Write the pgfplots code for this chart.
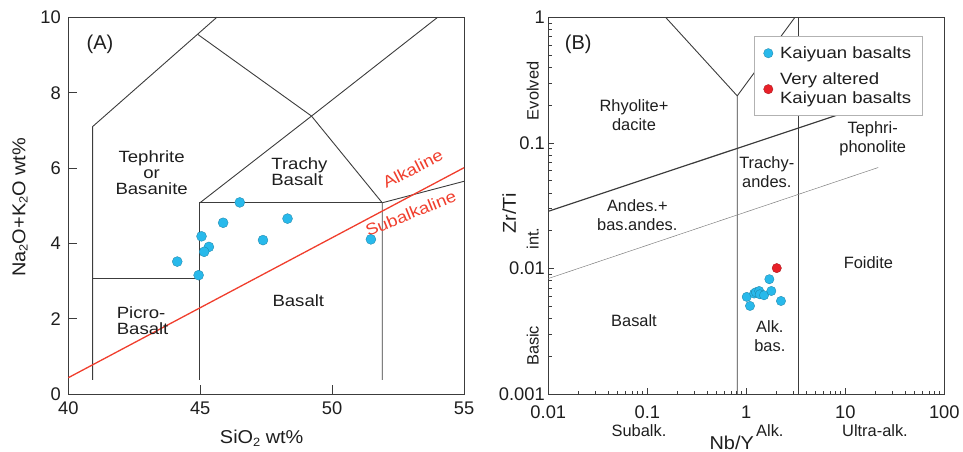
\documentclass[border=0pt]{standalone}
\usepackage{pgfplots}
\pgfplotsset{compat=1.18}
\usepackage{fontspec}
\setmainfont{Liberation Sans}
\newfontfamily\stretchfont[FakeStretch=1.14]{Liberation Sans}
\newfontfamily\axfont[FakeStretch=1.07]{Liberation Sans}
\definecolor{kblue}{RGB}{40,185,235}
\definecolor{kred}{RGB}{232,32,40}
\definecolor{lred}{RGB}{240,62,45}
\definecolor{lgray}{RGB}{60,60,60}
\definecolor{txt}{RGB}{30,30,30}
\newcommand{\sub}[1]{\raisebox{-0.12em}{\fontsize{12}{12}\selectfont #1}}
\newcommand{\tickf}{\fontsize{18.3}{20}\selectfont}
\newcommand{\axf}{\axfont\fontsize{18.6}{20}\selectfont}
\newcommand{\labA}{\stretchfont\fontsize{16.3}{16}\selectfont}
\newcommand{\labB}{\fontsize{16.4}{18.7}\selectfont}
\begin{document}
\begin{tikzpicture}
\useasboundingbox (-68.3pt,-56.7pt) rectangle (894.7pt,394.3pt);
% ---------------- Panel A ----------------
\begin{axis}[
  at={(0pt,0pt)}, anchor=south west,
  width=395.7pt, height=377pt, scale only axis,
  xmin=40, xmax=55, ymin=0, ymax=10,
  xtick={40,45,50,55}, ytick={0,2,4,6,8,10},
  tick align=inside, xtick pos=left, ytick pos=left,
  major tick length=9pt,
  axis line style={lgray, line width=1pt},
  tick style={lgray, line width=0.9pt},
  ticklabel style={font=\tickf, text=txt},
  xticklabel style={yshift=-4pt},
  yticklabel style={xshift=-4pt},
  /pgf/number format/assume math mode=true,
  clip=false,
]
\addplot[lgray, line width=0.9pt, forget plot] coordinates {(40.92,0.38) (40.92,7.1) (44.9,9.55) (45.63,10)};
\addplot[lgray, line width=0.9pt, forget plot] coordinates {(44.9,9.55) (49.22,7.38) (51.9,5.08) (51.9,0.38)};
\addplot[lgray, line width=0.9pt, forget plot] coordinates {(44.99,0.38) (44.99,5.08) (51.9,5.08)};
\addplot[lgray, line width=0.9pt, forget plot] coordinates {(44.99,5.08) (49.22,7.38) (54.0,10)};
\addplot[lgray, line width=0.9pt, forget plot] coordinates {(40.92,3.06) (44.99,3.06)};
\addplot[lgray, line width=0.9pt, forget plot] coordinates {(51.9,5.08) (55,5.65)};
\addplot[lred, line width=1.3pt, forget plot] coordinates {(40,0.44) (55,6.01)};
\addplot[only marks, mark=*, mark size=5pt, mark options={fill=kblue, draw=kblue!70!black, line width=0.3pt}] coordinates {
(44.13,3.52) (44.94,3.16) (45.05,4.19) (45.33,3.91) (45.15,3.78)
(45.87,4.55) (46.50,5.09) (47.38,4.09) (48.31,4.66) (51.47,4.11)};
\node[font=\fontsize{20}{20}\selectfont, text=txt] at (axis cs:41.2,9.27) {(A)};
\node[font=\labA, text=txt, align=center, inner sep=0pt] at (axis cs:43.16,5.87) {Tephrite\\or\\Basanite};
\node[font=\labA, text=txt, align=left, inner sep=0pt] at (axis cs:48.76,5.90) {\fontsize{16.3}{18.3}\selectfont Trachy\\Basalt};
\node[font=\labA, text=txt, inner sep=0pt] at (axis cs:48.72,2.48) {Basalt};
\node[font=\labA, text=txt, align=left, inner sep=0pt, anchor=west] at (axis cs:41.83,1.94) {\fontsize{16.3}{20}\selectfont Picro-\\Basalt};
\node[font=\labA, text=lred, rotate=27, inner sep=0pt] at (axis cs:53.06,5.98) {Alkaline};
\node[font=\labA, text=lred, rotate=22, inner sep=0pt] at (axis cs:52.98,4.80) {Subalkaline};
\end{axis}
% ---------------- Panel B ----------------
\begin{axis}[
  at={(480pt,0pt)}, anchor=south west,
  width=396pt, height=377pt, scale only axis,
  xmode=log, ymode=log,
  xmin=0.01, xmax=100, ymin=0.001, ymax=1,
  xtick={0.01,0.1,1,10,100}, xticklabels={0.01,0.1,1,10,100},
  ytick={0.001,0.01,0.1,1}, yticklabels={0.001,0.01,0.1,1},
  minor xtick={0.02,0.03,0.04,0.05,0.06,0.07,0.08,0.09,0.2,0.3,0.4,0.5,0.6,0.7,0.8,0.9,2,3,4,5,6,7,8,9,20,30,40,50,60,70,80,90},
  minor ytick={0.002,0.003,0.004,0.005,0.006,0.007,0.008,0.009,0.02,0.03,0.04,0.05,0.06,0.07,0.08,0.09,0.2,0.3,0.4,0.5,0.6,0.7,0.8,0.9},
  tick align=inside, xtick pos=left, ytick pos=left,
  major tick length=6pt, minor tick length=3.5pt,
  axis line style={lgray, line width=1pt},
  tick style={lgray, line width=0.8pt},
  ticklabel style={font=\tickf, text=txt},
  xticklabel style={yshift=-8pt},
  /pgf/number format/assume math mode=true,
  clip=false,
  legend style={at={(0.52,0.95)}, anchor=north west, draw=gray!60, fill=white,
    line width=0.8pt, font=\stretchfont\fontsize{16.3}{19.3}\selectfont, text=txt,
    cells={anchor=west, align=left}, row sep=9pt, column sep=5pt,
    inner xsep=9pt, inner ysep=8pt},
]
\addplot[lgray, line width=0.9pt, forget plot] coordinates {(0.81,0.001) (0.81,0.237) (0.153,1)};
\addplot[lgray, line width=0.9pt, forget plot] coordinates {(0.81,0.237) (3.1,1)};
\addplot[lgray, line width=0.9pt, forget plot] coordinates {(3.35,0.001) (3.35,1)};
\addplot[lgray, line width=1.2pt, forget plot] coordinates {(0.01,0.0286) (20,0.21)};
\addplot[gray, line width=0.5pt, forget plot] coordinates {(0.01,0.00834) (21.5,0.0638)};
\addplot[only marks, mark=*, mark size=4.7pt, mark options={fill=kblue, draw=kblue!70!black, line width=0.3pt}] coordinates {
(1.01,0.00596) (1.09,0.00505) (1.20,0.00634) (1.25,0.00649) (1.35,0.00664)
(1.37,0.00625) (1.51,0.00614) (1.71,0.00824) (1.79,0.00664) (2.24,0.00553)};
\addlegendentry{Kaiyuan basalts}
\addplot[only marks, mark=*, mark size=4.7pt, mark options={fill=kred, draw=kred!70!black, line width=0.3pt}] coordinates {(2.03,0.0101)};
\addlegendentry{Very altered\\Kaiyuan basalts}
\node[font=\fontsize{20}{20}\selectfont, text=txt] at (axis cs:0.0201,0.612) {(B)};
\node[font=\labB, text=txt, align=center, inner sep=0pt] at (axis cs:0.0734,0.166) {Rhyolite+\\dacite};
\node[font=\labB, text=txt, align=center, inner sep=0pt] at (axis cs:0.0793,0.0266) {Andes.+\\bas.andes.};
\node[font=\labB, text=txt, inner sep=0pt] at (axis cs:0.0734,0.00388) {Basalt};
\node[font=\labB, text=txt, align=center, inner sep=0pt] at (axis cs:1.61,0.0589) {Trachy-\\andes.};
\node[font=\labB, text=txt, align=center, inner sep=0pt] at (axis cs:1.73,0.00291) {Alk.\\bas.};
\node[font=\labB, text=txt, align=center, inner sep=0pt] at (axis cs:18.9,0.1087) {Tephri-\\phonolite};
\node[font=\labB, text=txt, inner sep=0pt] at (axis cs:17.1,0.0112) {Foidite};
\node[font=\labB, text=txt, rotate=90, inner sep=0pt] at (axis cs:0.00695,0.260) {Evolved};
\node[font=\labB, text=txt, rotate=90, inner sep=0pt] at (axis cs:0.00695,0.0174) {int.};
\node[font=\labB, text=txt, rotate=90, inner sep=0pt] at (axis cs:0.00695,0.00243) {Basic};
\node[font=\labB, text=txt, inner sep=0pt] at (axis cs:0.0824,0.000511) {Subalk.};
\node[font=\labB, text=txt, inner sep=0pt] at (axis cs:1.73,0.000511) {Alk.};
\node[font=\labB, text=txt, inner sep=0pt] at (axis cs:19.95,0.000511) {Ultra-alk.};
\end{axis}
% axis labels
\node[rotate=90, font=\axf, text=txt] at (-48.3pt,187pt) {Na\sub{2}O+K\sub{2}O wt\%};
\node[font=\axf, text=txt] at (193.4pt,-44pt) {SiO\sub{2} wt\%};
\node[rotate=90, font=\axf, text=txt] at (441pt,180.7pt) {Zr/Ti};
\node[font=\axf, text=txt] at (663.4pt,-49pt) {Nb/Y};
\end{tikzpicture}
\end{document}
